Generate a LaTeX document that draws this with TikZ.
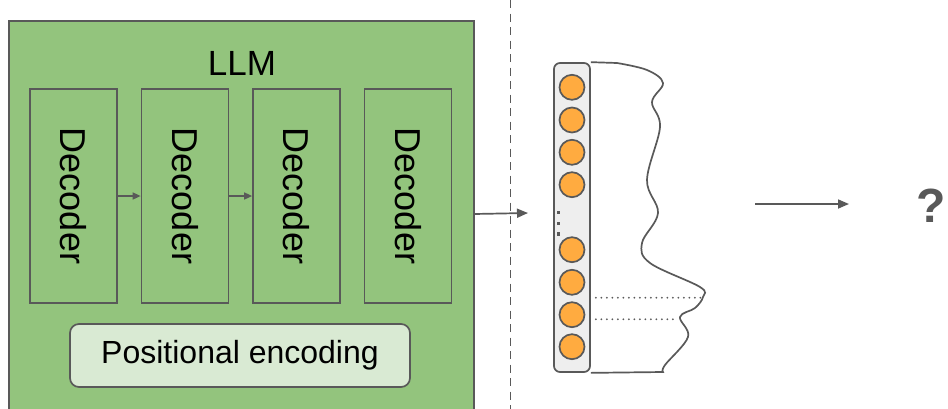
\documentclass[tikz,border=0pt]{standalone}
\usepackage{fontspec}
\setmainfont{Liberation Sans}
\usetikzlibrary{arrows.meta}
\definecolor{edge}{HTML}{595959}
\definecolor{llmgreen}{HTML}{93C47D}
\definecolor{palegreen}{HTML}{D9EAD3}
\definecolor{vecgray}{HTML}{EEEEEE}
\definecolor{dotorange}{HTML}{FFAB40}
\tikzset{
  block/.style={draw=edge, line width=1.7pt},
  decbox/.style={block, fill=llmgreen, minimum width=87pt, minimum height=214pt, inner sep=0pt},
  declabel/.style={rotate=-90, font=\fontsize{36}{36}\selectfont, inner sep=0pt},
  unit/.style={circle, draw=edge, line width=1.7pt, fill=dotorange, minimum size=25pt, inner sep=0pt},
  flow/.style={draw=edge, line width=1.7pt, -{Triangle[length=11pt,width=9pt]}},
  smallflow/.style={draw=edge, line width=1.5pt, -{Triangle[length=8pt,width=7pt]}},
  guide/.style={draw=edge, line width=2pt, line cap=round, dash pattern=on 0pt off 5.5pt},
}
\begin{document}
\begin{tikzpicture}[x=1pt, y=-1pt]
\useasboundingbox (0,0) rectangle (948,408);

% the model with its decoder stack
\draw[block, fill=llmgreen] (9,21) rectangle (474,414);
\node[font=\fontsize{35}{35}\selectfont] (llm) at (242,63) {LLM};
\foreach \i/\x in {1/73.5, 2/185, 3/296.5, 4/408} {
  \node[decbox] (dec\i) at (\x,196) {};
  \node[declabel] at (dec\i) {Decoder};
}
\draw[smallflow] (dec1.east) -- (dec2.west);
\draw[smallflow] (dec2.east) -- (dec3.west);
\node[block, fill=palegreen, rounded corners=9pt, minimum width=340pt, minimum height=63pt,
      font=\fontsize{32}{32}\selectfont] (pe) at (240,355.5) {Positional encoding};

% separator
\draw[draw=edge, line width=1.5pt, dash pattern=on 8pt off 5.5pt] (510.5,0) -- (510.5,410);

% output vector with its distribution outline
\node[block, fill=vecgray, rounded corners=6pt, minimum width=36pt, minimum height=309pt, inner sep=0pt]
  (vec) at (572,217.5) {};
\foreach \i/\y in {1/87.3, 2/120, 3/152.3, 4/184.7, 5/249.7, 6/282.3, 7/314.7, 8/346.7} {
  \node[unit] (u\i) at (572,\y) {};
}
\foreach \y in {212.7, 223.3, 234} {
  \fill[edge] (556.5,\y-1.6) rectangle (559.7,\y+1.6);
}
\coordinate (wtop) at (617,63);
\coordinate (wbot) at (663,372);
\draw[draw=edge, line width=1.7pt] (vec.north east) -- (wtop)
  plot[smooth, tension=0.6] coordinates {(617,63) (647,70) (663,83) (652,102) (660,127) (647,180)
     (658,213) (642,243) (650,263) (700,287) (703,297) (695,308) (680,317) (688,337) (665,365) (663,372)}
  -- (vec.south east);
\coordinate (peak1) at (703,297.7);
\coordinate (peak2) at (673,319.3);
\draw[guide] ([xshift=5pt]vec.east |- peak1) -- (peak1);
\draw[guide] ([xshift=5pt]vec.east |- peak2) -- (peak2);

% connectors
\coordinate (outstart) at (474,214);
\coordinate (vecin) at (528,213);
\draw[flow] (outstart) -- (vecin);
\coordinate (nextstart) at (755,204);
\node[font=\bfseries\fontsize{48}{48}\selectfont, text=edge, inner sep=0pt] (q) at (931,206) {?};
\coordinate (nextend) at (849,204);
\draw[flow] (nextstart) -- (nextend);
\end{tikzpicture}
\end{document}
